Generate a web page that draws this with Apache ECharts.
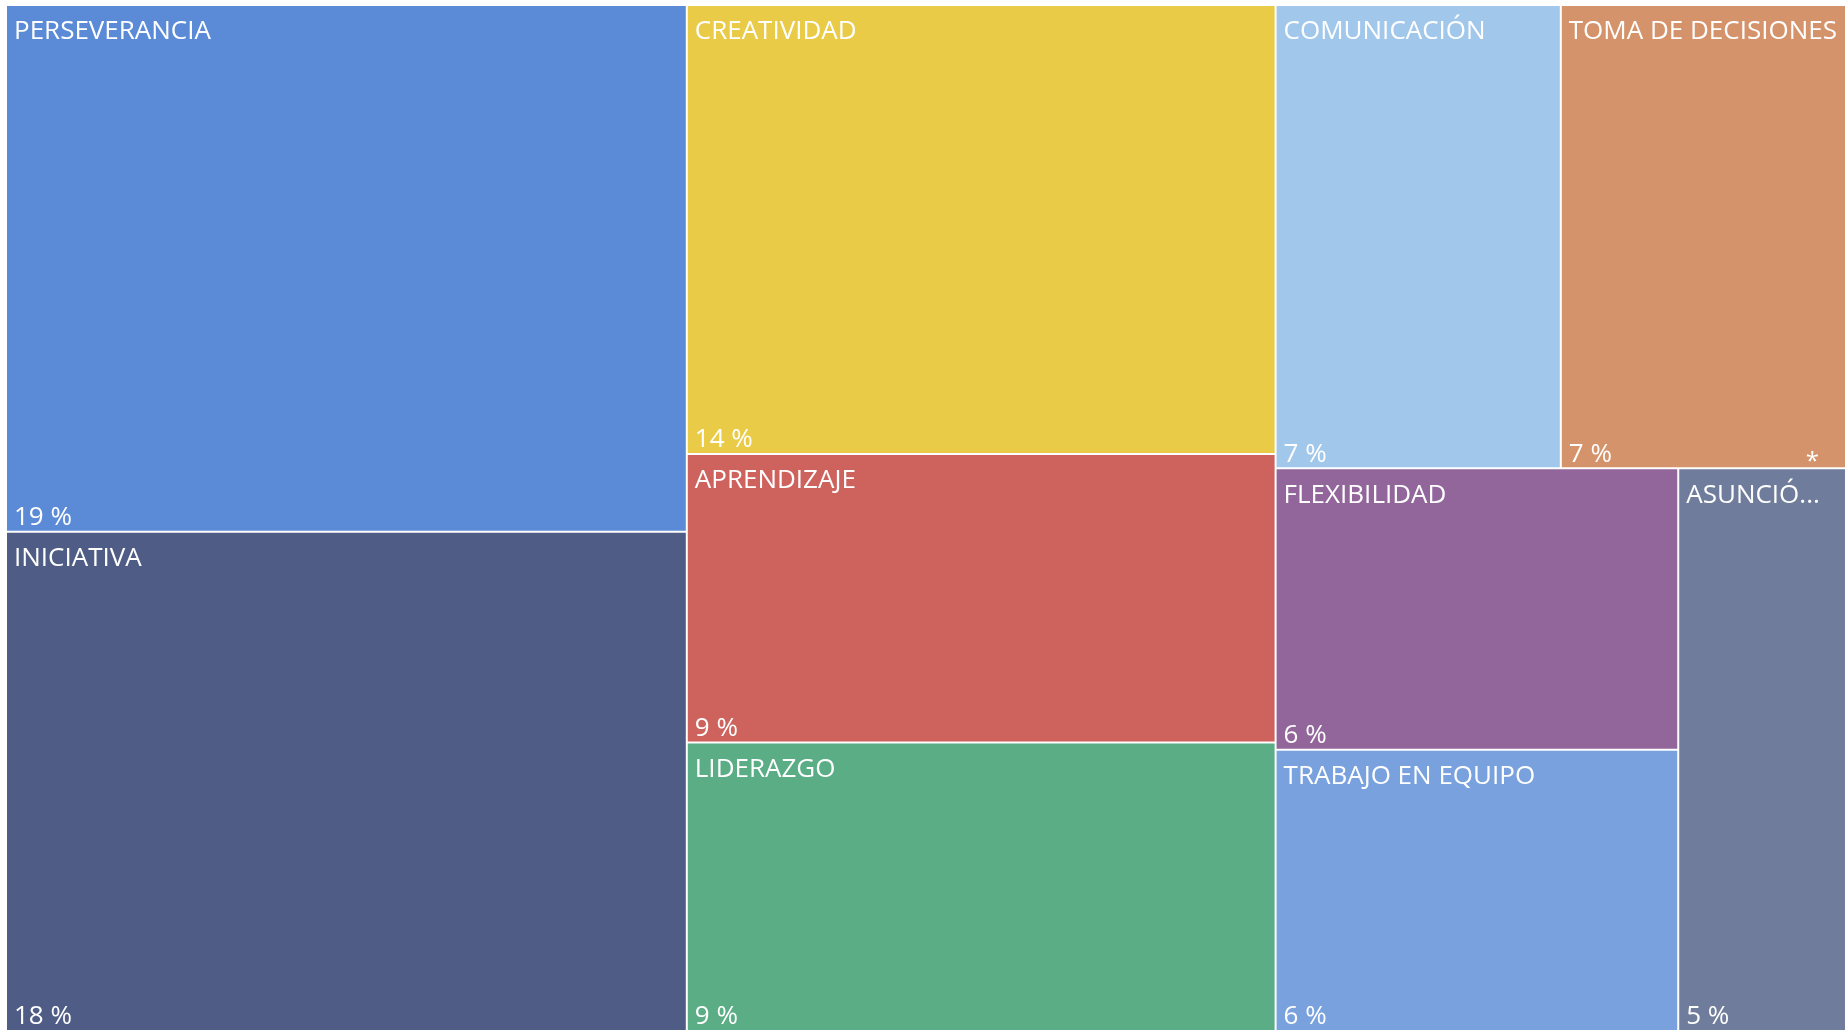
<!DOCTYPE html>
<html><head><meta charset="utf-8">
<script src="https://cdn.jsdelivr.net/npm/echarts@6/dist/echarts.min.js"></script>
<style>html,body{margin:0;padding:0;background:#fff}#c{width:1847px;height:1030px}</style>
</head><body><div id="c"></div>
<script>
const categories = ['PERSEVERANCIA','INICIATIVA','CREATIVIDAD','APRENDIZAJE','LIDERAZGO','COMUNICACIÓN','TOMA DE DECISIONES','FLEXIBILIDAD','TRABAJO EN EQUIPO','ASUNCIÓN DE RIESGOS'];
const shares = [19,18,14,9,9,7,7,6,6,5];
const colors = ['#5B8BD7','#4F5D86','#EACB47','#CE635E','#5AAD85','#A1C7EB','#D4936A','#92669B','#78A1DE','#6F7C9B'];
const notes = ['','','','','','','*','','',''];

const FONT = '"Segoe UI","Open Sans",sans-serif';
const chart = echarts.init(document.getElementById('c'), null, {renderer:'canvas'});

function makeData(withColor, nameLabels){
  return categories.map((n,i)=>{
    const item = {
      name:n, value:shares[i],
      itemStyle: withColor ? {color:colors[i]} : {color:'rgba(0,0,0,0)'}
    };
    // the narrowest tile truncates its name a little earlier, as in the source
    if (nameLabels && i === categories.length - 1) item.label = {padding:[13,14,0,7]};
    return item;
  });
}
const base = {
  type:'treemap', left:7, top:6, width:1838, height:1024,
  roam:false, nodeClick:false, breadcrumb:{show:false},
  sort:false, animation:false, silent:true,
  emphasis:{disabled:true},
  itemStyle:{gapWidth:2, borderWidth:0, borderColor:'#fff'}
};
chart.setOption({
  animation:false,
  tooltip:{show:false},
  series:[
    Object.assign({}, base, {
      data:makeData(true, true),
      label:{show:true, position:'insideTopLeft', color:'#fff', fontFamily:FONT, fontSize:26,
        padding:[13,0,0,7], formatter:p=>p.name, overflow:'truncate', ellipsis:'...'}
    }),
    Object.assign({}, base, {
      data:makeData(false, false),
      label:{show:true, position:'insideBottomLeft', color:'#fff', fontFamily:FONT, fontSize:26,
        padding:[0,8,0,7], formatter:p=>p.value+' %'}
    }),
    Object.assign({}, base, {
      data:makeData(false, false),
      label:{show:true, position:'insideBottomRight', color:'#fff', fontFamily:FONT, fontSize:24,
        lineHeight:10, padding:[0,26,0,0], formatter:p=>notes[categories.indexOf(p.name)]}
    })
  ]
});
</script></body></html>
